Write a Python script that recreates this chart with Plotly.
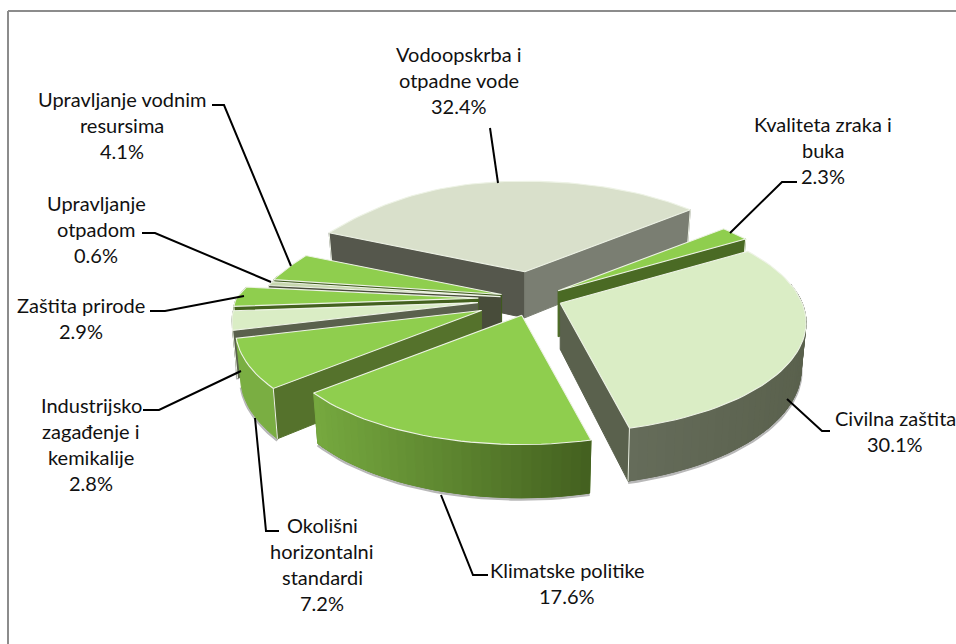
import math
import plotly.graph_objects as go

# ---- data (clockwise from the back-left of the pie) ----
categories = ["Vodoopskrba i otpadne vode", "Kvaliteta zraka i buka", "Civilna zaštita",
              "Klimatske politike", "Okolišni horizontalni standardi",
              "Industrijsko zagađenje i kemikalije", "Zaštita prirode",
              "Upravljanje otpadom", "Upravljanje vodnim resursima"]
values = [32.4, 2.3, 30.1, 17.6, 7.2, 2.8, 2.9, 0.6, 4.1]
pulls = [0.265, 0.125, 0.116, 0.16, 0.24, 0.234, 0.23, 0.14, 0.14]

# ---- styles ----
GREEN = "#8fce4e"
PALE = "#daedc5"
top_col = ["#d9e0cb", GREEN, PALE, GREEN, GREEN, PALE, GREEN, "#c6d6ae", GREEN]
wall_start = ["#55574c", None, None, None, "#55722c", "#5a614d", "#44611f", "#484c3a", "#3f5a1e"]
wall_end = ["#7a7e72", "#4a6a24", "#5a614d", None, None, None, None, None, None]
rim_l = ["#7a7e72", "#4a6a24", "#656c5a", "#76a93f", "#7aae42", "#7c8470", "#44611f", "#6e7566", "#4a6a24"]
rim_r = ["#7a7e72", "#4a6a24", "#5a614d", "#43601f", "#7aae42", "#7c8470", "#44611f", "#6e7566", "#4a6a24"]
paint_order = [0, 8, 7, 6, 5, 4, 3, 1, 2]

CX, CY = 534, 298.5
RX, RY, P, H, BOT = 242, 106.6, 0.176, 46, 0.98
SKEW = 0.17
START = -67.0

def proj(r, deg):
    a = math.radians(deg)
    X, Y = r * math.sin(a), r * math.cos(a)
    s = 1 / (1 + P * Y)
    f = 1 - SKEW * max(0.0, -X * Y) if (X < 0 and Y > 0) else 1.0
    return RX * X * s * f, -RY * Y * s, s

def hexmix(c1, c2, t):
    a = [int(c1[i:i + 2], 16) for i in (1, 3, 5)]
    b = [int(c2[i:i + 2], 16) for i in (1, 3, 5)]
    return "#%02x%02x%02x" % tuple(round(u + (v - u) * t) for u, v in zip(a, b))

fig = go.Figure()

def poly(xs, ys, fill, line=None, width=0.0):
    fig.add_trace(go.Scatter(x=xs + xs[:1], y=ys + ys[:1], mode="lines", fill="toself",
                             fillcolor=fill, hoverinfo="skip",
                             line=dict(color=line or fill, width=width or 1)))

def stroke(xs, ys, color, width):
    fig.add_trace(go.Scatter(x=xs, y=ys, mode="lines", hoverinfo="skip",
                             line=dict(color=color, width=width)))

total = sum(values)
bounds = [START]
for v in values:
    bounds.append(bounds[-1] + v / total * 360)

EDGE = "#eef3e6"
for i in paint_order:
    a0, a1 = bounds[i], bounds[i + 1]
    ox, oy, _ = proj(pulls[i], (a0 + a1) / 2)
    ax, ay = CX + ox, CY + oy

    def top(a):
        x, y, _ = proj(1, a)
        return ax + x, ay + y

    def bot(a):
        x, y, s = proj(1, a)
        return ax + x * BOT, ay + y * BOT + H * s

    n = max(2, int((a1 - a0) / 2.0) + 1)
    angs = [a0 + (a1 - a0) * k / n for k in range(n + 1)]
    vis = [a for a in angs if math.cos(math.radians(a)) < 0.2]

    # soft shadow below the outer wall, solid base, then gradient strips
    if len(vis) > 1:
        stroke([bot(a)[0] for a in vis], [bot(a)[1] + 1.5 for a in vis], "#b8b8b8", 3)
        poly([top(a)[0] for a in vis] + [bot(a)[0] for a in vis[::-1]],
             [top(a)[1] for a in vis] + [bot(a)[1] for a in vis[::-1]],
             hexmix(rim_l[i], rim_r[i], 0.5))
        if rim_l[i] != rim_r[i]:
            xl = min(top(a)[0] for a in vis)
            xr = max(top(a)[0] for a in vis)
            for p, q in zip(vis[:-1], vis[1:]):
                tp, tq, bp, bq = top(p), top(q), bot(p), bot(q)
                t = ((tp[0] + tq[0]) / 2 - xl) / max(xr - xl, 1)
                poly([tp[0], tq[0], bq[0], bp[0]], [tp[1], tq[1], bq[1], bp[1]],
                     hexmix(rim_l[i], rim_r[i], t))

    # radial walls that face the viewer
    for ang, col in ((a0, wall_start[i]), (a1, wall_end[i])):
        if col:
            t, b = top(ang), bot(ang)
            poly([ax, t[0], b[0], ax], [ay, t[1], b[1], ay + H], col)
            stroke([t[0], b[0]], [t[1], b[1]], EDGE, 1)

    # top face
    pts = [top(a) for a in angs]
    poly([ax] + [p[0] for p in pts], [ay] + [p[1] for p in pts], top_col[i], EDGE, 1.1)

# leader lines
leaders = [
    ([490, 498], [128, 183]),
    ([797, 782, 730], [182, 182, 233]),
    ([830, 822, 787], [431, 431, 399]),
    ([488, 473, 441], [575, 575, 495]),
    ([279, 266, 255], [531, 531, 418]),
    ([143, 159, 241], [410, 410, 371]),
    ([150, 165, 244], [311, 311, 296]),
    ([142, 155, 271], [233, 233, 282]),
    ([212, 224, 291], [105, 105, 266]),
]
for xs, ys in leaders:
    stroke(xs, ys, "black", 2)

# labels: (x centre, first line y, lines)
label_lines = [
    (459, 54, ["Vodoopskrba i", "otpadne vode", "32.4%"]),
    (823, 124, ["Kvaliteta zraka i", "buka", "2.3%"]),
    (895, 418, ["Civilna zaštita", "30.1%"]),
    (567, 570, ["Klimatske politike", "17.6%"]),
    (322, 525, ["Okolišni", "horizontalni", "standardi", "7.2%"]),
    (91, 405, ["Industrijsko", "zagađenje i", "kemikalije", "2.8%"]),
    (81, 305, ["Zaštita prirode", "2.9%"]),
    (96, 203, ["Upravljanje", "otpadom", "0.6%"]),
    (122, 99, ["Upravljanje vodnim", "resursima", "4.1%"]),
]
annotations = []
for x, y, lines in label_lines:
    for k, txt in enumerate(lines):
        annotations.append(dict(x=x, y=y + k * 26, text=txt, showarrow=False, xanchor="center",
                                yanchor="middle", font=dict(family="Lato", size=20, color="#111111")))

fig.update_layout(
    width=956, height=644, showlegend=False, autosize=False,
    margin=dict(l=0, r=0, t=0, b=0), paper_bgcolor="white", plot_bgcolor="white",
    xaxis=dict(range=[0, 956], visible=False, fixedrange=True),
    yaxis=dict(range=[644, 0], visible=False, fixedrange=True),
    annotations=annotations,
    shapes=[dict(type="line", x0=8, x1=8, y0=11, y1=644, line=dict(color="#8c8c8c", width=2)),
            dict(type="line", x0=8, x1=956, y0=11, y1=11, line=dict(color="#8c8c8c", width=2))],
)
fig.write_html("out.html", config={"displayModeBar": False},
               post_script="document.body.style.margin='0';document.body.style.overflow='hidden';")
